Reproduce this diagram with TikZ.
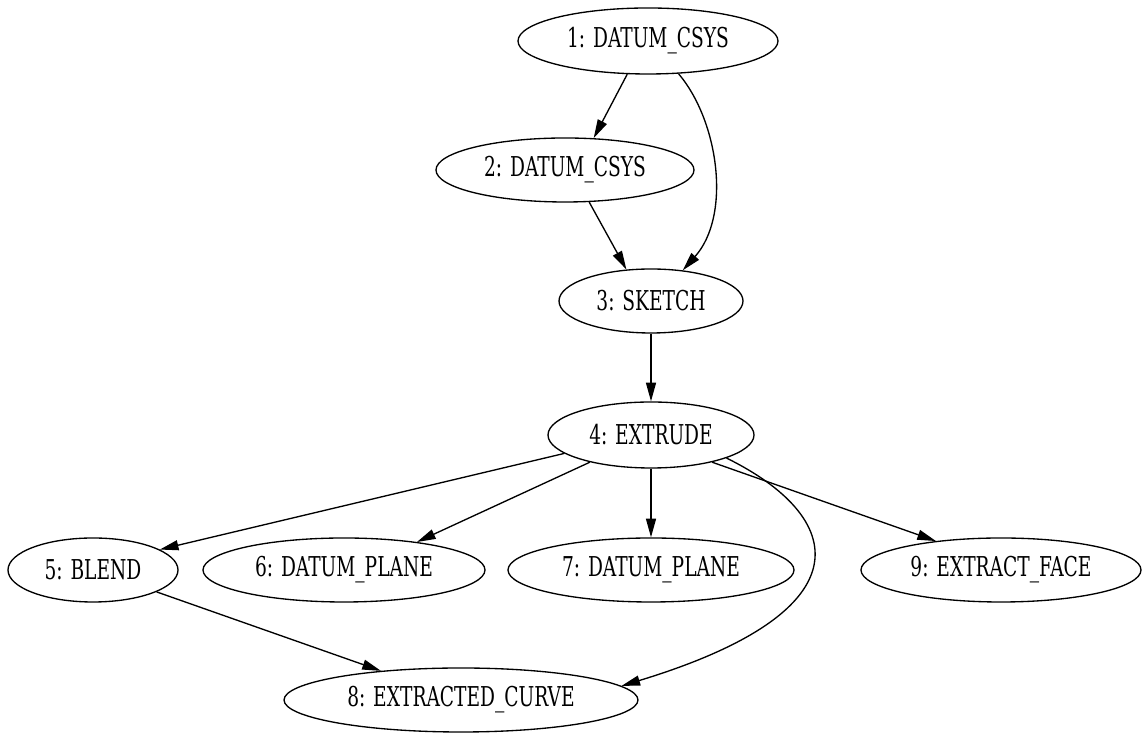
\documentclass[tikz,border=0pt]{standalone}
\usepackage{fontspec}
\setmainfont{DejaVu Serif Condensed}[FakeStretch=0.757]
\usetikzlibrary{shapes.geometric,arrows.meta}
\begin{document}
\begin{tikzpicture}[x=0.75pt,y=0.75pt,
  feat/.style={draw,ellipse,inner sep=0pt,line width=1pt,
    font=\fontsize{20.5}{24}\selectfont},
  dep/.style={line width=1pt,-{Triangle[length=14pt,width=7.5pt]}}]
\useasboundingbox (0,0) rectangle (1143,734);
% feature nodes (sizes in pt = 0.75 x px, y upwards)
\node[feat,minimum width=195pt,minimum height=49.5pt] (n1) at (648,693) {1: DATUM\_CSYS};
\node[feat,minimum width=193.5pt,minimum height=48pt] (n2) at (565,564) {2: DATUM\_CSYS};
\node[feat,minimum width=138pt,minimum height=48pt] (n3) at (651,433) {3: SKETCH};
\node[feat,minimum width=154.5pt,minimum height=49.5pt] (n4) at (651,299) {4: EXTRUDE};
\node[feat,minimum width=127.5pt,minimum height=48pt] (n5) at (93,164) {5: BLEND};
\node[feat,minimum width=211.5pt,minimum height=48pt] (n6) at (344,164) {6: DATUM\_PLANE};
\node[feat,minimum width=214.5pt,minimum height=48pt] (n7) at (651,164) {7: DATUM\_PLANE};
\node[feat,minimum width=210pt,minimum height=48pt] (n9) at (1001,164) {9: EXTRACT\_FACE};
\node[feat,minimum width=265.5pt,minimum height=48pt] (n8) at (461,34) {8: EXTRACTED\_CURVE};
% dependencies
\draw[dep] (n1.-122) -- (n2.48);
\draw[dep] (n1.-47) .. controls +(40,-47) and +(49,55) .. (n3.44);
\draw[dep] (n2.-53) -- (n3.128);
\draw[dep] (n3.south) -- (n4.north);
\draw[dep] (n4.-168) -- (n5.17);
\draw[dep] (n4.-156) -- (n6.21);
\draw[dep] (n4.south) -- (n7.north);
\draw[dep] (n4.-24) -- (n9.156);
\draw[dep] (n4.-17) .. controls +(118,-58) and +(250,76) .. (n8.5);
\draw[dep] (n5.-19) -- (n8.160);
\end{tikzpicture}
\end{document}
